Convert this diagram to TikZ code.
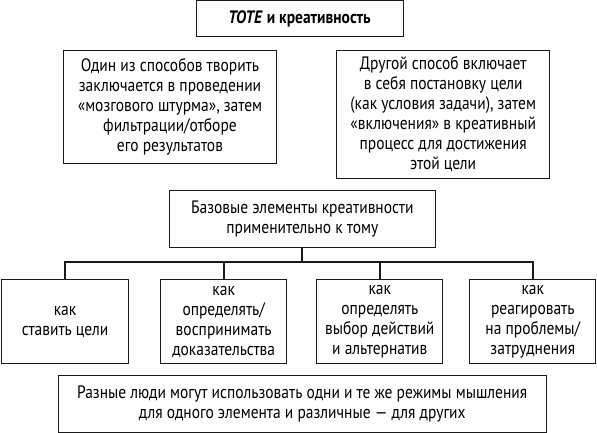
\documentclass[tikz,border=0pt]{standalone}
\usepackage{fontspec}
\setmainfont{PT Sans}[FakeStretch=0.86]
\begin{document}
\begin{tikzpicture}[x=1pt,y=-1pt,
  box/.style={draw=black!90,line width=1pt,inner sep=0pt,align=center,
    font=\fontsize{18}{20}\selectfont,anchor=center},
  conn/.style={draw=black!90,line width=2pt}]
\useasboundingbox (0,0) rectangle (597,433);
\node[box,minimum width=207pt,minimum height=36pt] (title) at (299.5,19)
  {\textbf{\textit{TOTE}} \textbf{и креативность}};
\node[box,minimum width=213.4pt,minimum height=113pt] (left) at (170,106.8)
  {Один из способов творить\\заключается в проведении\\«мозгового штурма», затем\\фильтрации/отборе\\его результатов};
\node[box,minimum width=213pt,minimum height=128pt] (right) at (443.2,114.3)
  {Другой способ включает\\в себя постановку цели\\(как условия задачи), затем\\«включения» в креативный\\процесс для достижения\\этой цели};
\node[box,minimum width=266pt,minimum height=56.6pt] (mid) at (302.3,219)
  {Базовые элементы креативности\\применительно к тому};
\node[box,minimum width=127.4pt,minimum height=84.3pt] (b1) at (65,321.8)
  {как\\ставить цели};
\node[box,minimum width=126pt,minimum height=84.3pt] (b2) at (223.7,321.8)
  {как\\определять/\\воспринимать\\доказательства};
\node[box,minimum width=126.3pt,minimum height=84.3pt] (b3) at (379.8,321.8)
  {как\\определять\\выбор действий\\и альтернатив};
\node[box,minimum width=126.3pt,minimum height=84.3pt] (b4) at (532.8,321.8)
  {как\\реагировать\\на проблемы/\\затруднения};
\node[box,minimum width=487.7pt,minimum height=56.7pt] (bot) at (302.2,403.7)
  {Разные люди могут использовать одни и те же режимы мышления\\для одного элемента и различные — для других};
\coordinate (busy) at (0,262);
\draw[conn] (mid.south) -- (mid.south |- busy);
\draw[conn] (b1.north) |- (b4.north |- busy) -- (b4.north);
\draw[conn] (b2.north) -- (b2.north |- busy);
\draw[conn] (b3.north) -- (b3.north |- busy);
\end{tikzpicture}
\end{document}
